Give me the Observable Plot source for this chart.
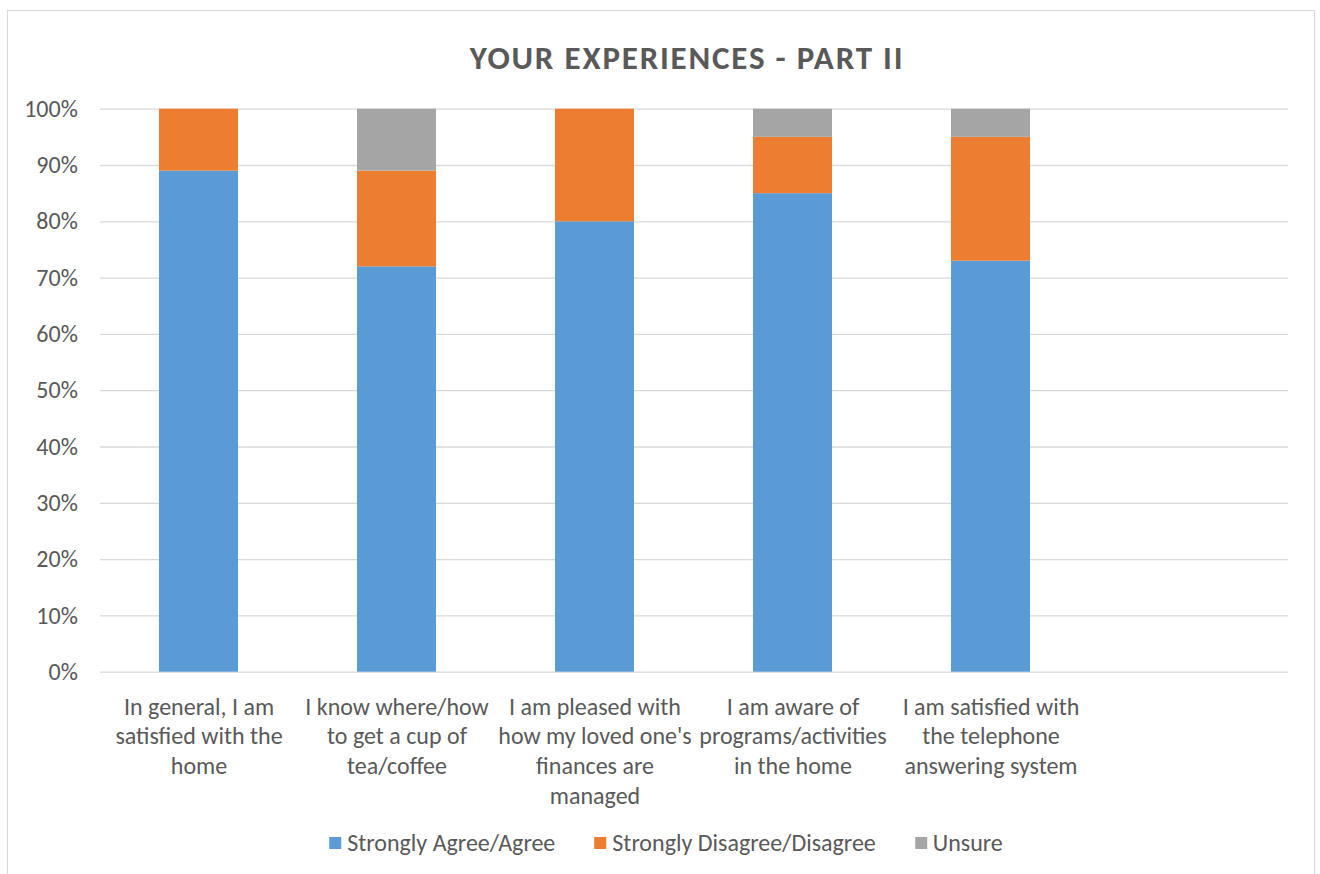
<!DOCTYPE html>
<html><head><meta charset="utf-8">
<script src="https://cdn.jsdelivr.net/npm/d3@7"></script>
<script src="https://cdn.jsdelivr.net/npm/@observablehq/plot@0.6"></script>
<style>
body{margin:0;background:#fff;font-family:Carlito,Calibri,Lato,sans-serif;color:#595959}
#wrap{position:relative;width:1320px;height:874px;overflow:hidden;background:#fff}
#frame{position:absolute;left:7px;top:10px;width:1308px;height:900px;border:1px solid #D9D9D9;box-sizing:border-box}
#title{position:absolute;left:687px;top:42px;transform:translateX(-50%);font-weight:bold;font-size:33px;line-height:33px;letter-spacing:1.8px;white-space:nowrap;color:#595959}
#chart{position:absolute;left:0;top:90px}
#legend{position:absolute;left:666px;top:831px;transform:translateX(-50%);display:flex;gap:39px;white-space:nowrap;font-size:24px;line-height:24px}
#legend .item{display:flex;align-items:center;gap:6px}
#legend .sw{width:12px;height:12px;display:inline-block}
</style></head>
<body>
<div id="wrap">
  <div id="frame"></div>
  <div id="title"></div>
  <div id="chart"></div>
  <div id="legend"></div>
</div>
<script>
const title = "YOUR EXPERIENCES - PART II";
const categories = [
  "In general, I am satisfied with the home",
  "I know where/how to get a cup of tea/coffee",
  "I am pleased with how my loved one's finances are managed",
  "I am aware of programs/activities in the home",
  "I am satisfied with the telephone answering system"
];
const categoryLabels = [
  "In general, I am\nsatisfied with the\nhome",
  "I know where/how\nto get a cup of\ntea/coffee",
  "I am pleased with\nhow my loved one's\nfinances are\nmanaged",
  "I am aware of\nprograms/activities\nin the home",
  "I am satisfied with\nthe telephone\nanswering system"
];
const seriesNames = ["Strongly Agree/Agree", "Strongly Disagree/Disagree", "Unsure"];
const seriesColors = ["#5B9BD5", "#ED7D31", "#A5A5A5"];
const agree = [89, 72, 80, 85, 73];
const disagree = [11, 17, 20, 10, 22];
const unsure = [0, 11, 0, 5, 5];
const yTicks = [0, 10, 20, 30, 40, 50, 60, 70, 80, 90, 100];

const seriesValues = [agree, disagree, unsure];
const data = [];
seriesNames.forEach((s, si) => categories.forEach((c, ci) => data.push({category: c, series: s, value: seriesValues[si][ci]})));

document.getElementById("title").textContent = title;

const fontSize = 24;
const chart = Plot.plot({
  width: 1320,
  height: 740,
  marginLeft: 100,
  marginRight: 32,
  marginTop: 18.7,
  marginBottom: 158.3,
  style: {fontFamily: "Carlito, Calibri, Lato, sans-serif", fontSize: fontSize + "px", color: "#595959", background: "transparent"},
  x: {domain: categories, range: [100, 1090], paddingInner: 0.6, paddingOuter: 0.3, axis: null},
  y: {domain: [0, 100], axis: null},
  color: {domain: seriesNames, range: seriesColors},
  marks: [
    Plot.gridY(yTicks, {stroke: "#D9D9D9", strokeOpacity: 1, strokeWidth: 1.3}),
    Plot.barY(data, {x: "category", y: "value", fill: "series", order: seriesNames}),
    Plot.axisY(yTicks, {tickSize: 0, tickPadding: 22.7, tickFormat: d => d + "%", fill: "#595959", fontSize: fontSize, label: null}),
    Plot.axisX(categories, {tickSize: 0, tickPadding: 21, tickFormat: d => categoryLabels[categories.indexOf(d)], fill: "#595959", fontSize: fontSize, lineHeight: 1.25, label: null})
  ]
});
document.getElementById("chart").appendChild(chart);

const legend = document.getElementById("legend");
seriesNames.forEach((s, i) => {
  const item = document.createElement("div");
  item.className = "item";
  const sw = document.createElement("span");
  sw.className = "sw";
  sw.style.background = seriesColors[i];
  const t = document.createElement("span");
  t.textContent = s;
  item.appendChild(sw); item.appendChild(t);
  legend.appendChild(item);
});
</script>
</body></html>
